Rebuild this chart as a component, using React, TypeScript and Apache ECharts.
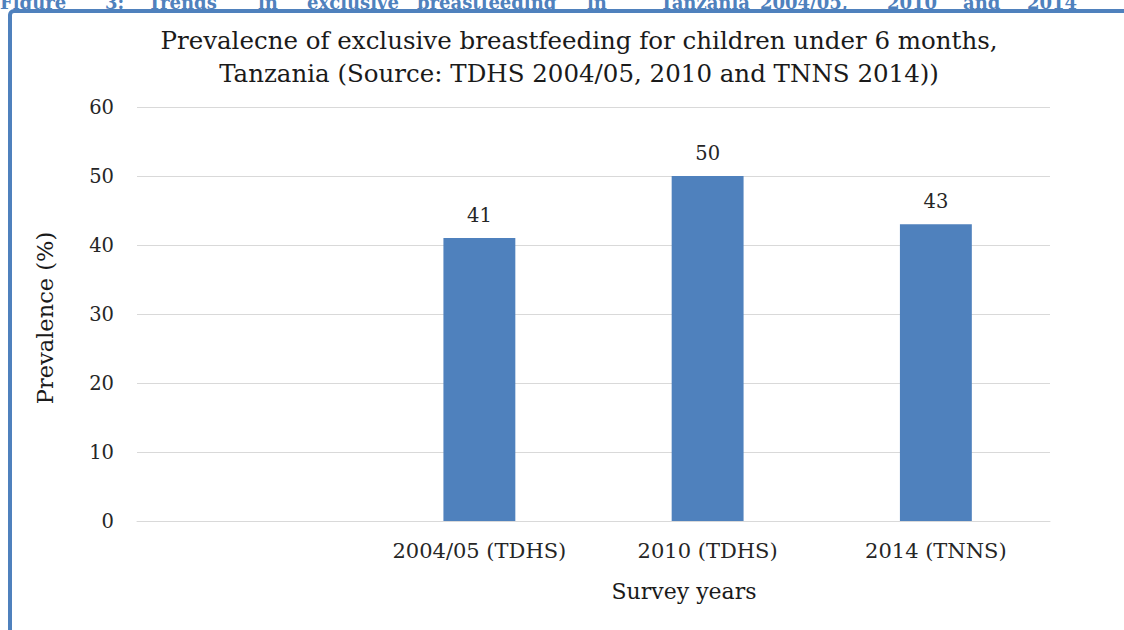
import React, { useEffect, useRef } from "react";
import * as echarts from "echarts";

// Survey rounds (first slot is left blank on the axis)
const categories = ["", "2004/05 (TDHS)", "2010 (TDHS)", "2014 (TNNS)"];
const prevalence = [null, 41, 50, 43];
const yTicks = { min: 0, max: 60, interval: 10 };

const titleLines = [
  "Prevalecne of exclusive breastfeeding for children under 6 months,",
  "Tanzania (Source: TDHS 2004/05, 2010 and TNNS 2014))",
];
const headingWords = ["Figure", "3:", "Trends", "in", "exclusive", "breastfeeding", "in", "Tanzania", "2004/05,", "2010", "and", "2014"];
// justified word positions of the document heading above the figure frame
const headingX = [0, 105, 148, 258, 307, 417, 587, 660, 760, 887, 963, 1027];

const BLUE = "#4f81bd";
const FONT = "'DejaVu Serif', 'Liberation Serif', serif";

export default function App() {
  const ref = useRef<HTMLDivElement>(null);

  useEffect(() => {
    if (!ref.current) return;
    const chart = echarts.init(ref.current, null, { renderer: "svg" });

    const heading = headingWords.map((w, i) => ({
      type: "text",
      x: headingX[i],
      y: 11,
      z: 1,
      style: {
        text: w,
        fill: BLUE,
        font: `bold 18px ${FONT}`,
        textAlign: "left",
        textVerticalAlign: "bottom",
      },
    }));

    chart.setOption({
      animation: false,
      backgroundColor: "#ffffff",
      textStyle: { fontFamily: FONT },
      title: {
        text: titleLines.join("\n"),
        left: 579,
        top: 24,
        textAlign: "center",
        padding: 0,
        textStyle: {
          fontFamily: FONT,
          fontSize: 24.5,
          fontWeight: "normal",
          color: "#1a1a1a",
          lineHeight: 33,
        },
      },
      grid: { left: 137, right: 74, top: 107, bottom: 109, containLabel: false },
      xAxis: {
        type: "category",
        data: categories,
        axisLine: { lineStyle: { color: "#d9d9d9", width: 1 } },
        axisTick: { show: false },
        axisLabel: { color: "#262626", fontSize: 21, fontFamily: FONT, margin: 19, interval: 0 },
      },
      yAxis: {
        type: "value",
        min: yTicks.min,
        max: yTicks.max,
        interval: yTicks.interval,
        axisLine: { show: false },
        axisTick: { show: false },
        splitLine: { lineStyle: { color: "#d9d9d9", width: 1 } },
        axisLabel: { color: "#262626", fontSize: 19.5, fontFamily: FONT, margin: 23 },
      },
      series: [
        {
          type: "bar",
          data: prevalence,
          barWidth: "31.5%",
          itemStyle: { color: BLUE },
          label: {
            show: true,
            position: "top",
            distance: 13,
            color: "#262626",
            fontSize: 19.5,
            fontFamily: FONT,
          },
        },
      ],
      graphic: [
        ...heading,
        {
          type: "rect",
          z: 2,
          shape: { x: 10, y: 11, width: 1300, height: 800, r: 4 },
          style: { fill: "none", stroke: BLUE, lineWidth: 4 },
        },
        {
          type: "text",
          x: 45,
          y: 318,
          rotation: Math.PI / 2,
          style: {
            text: "Prevalence (%)",
            fill: "#1a1a1a",
            font: `22.5px ${FONT}`,
            textAlign: "center",
            textVerticalAlign: "middle",
          },
        },
        {
          type: "text",
          x: 684,
          y: 591,
          style: {
            text: "Survey years",
            fill: "#1a1a1a",
            font: `22px ${FONT}`,
            textAlign: "center",
            textVerticalAlign: "middle",
          },
        },
      ],
    });

    return () => chart.dispose();
  }, []);

  return (
    <div
      ref={ref}
      style={{ position: "absolute", left: 0, top: 0, width: 1124, height: 630 }}
    />
  );
}
